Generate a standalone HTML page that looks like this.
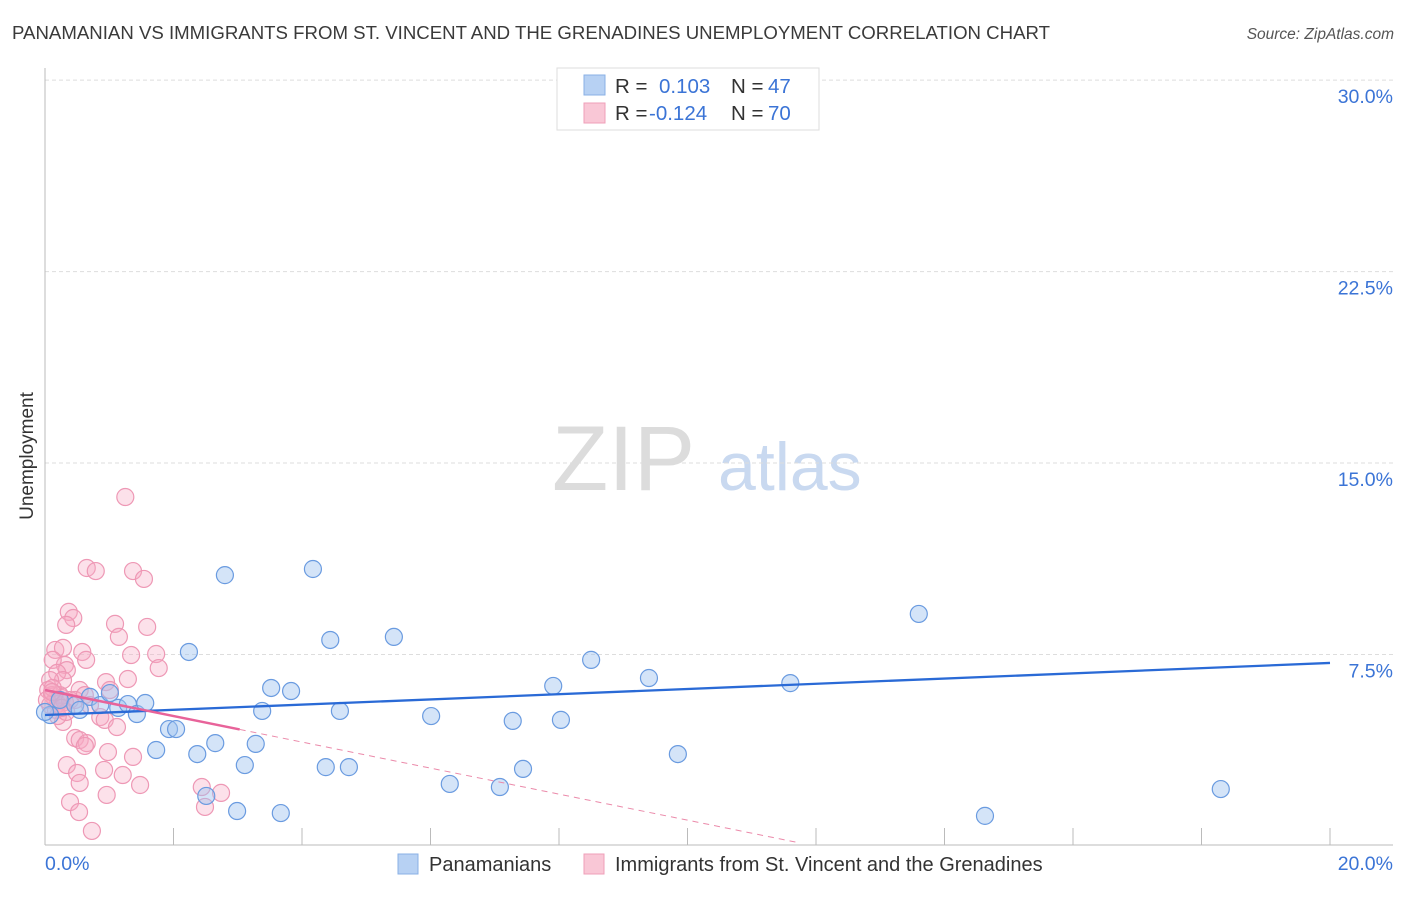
<!DOCTYPE html>
<html><head><meta charset="utf-8"><style>
body{margin:0;background:#fff;font-family:"Liberation Sans",sans-serif;}
svg text{font-family:"Liberation Sans",sans-serif;}
</style></head><body>
<svg id="chart" width="1406" height="892" viewBox="0 0 1406 892">
<text x="12" y="39" font-size="18.6" fill="#3a3a3a" textLength="1038" lengthAdjust="spacingAndGlyphs">PANAMANIAN VS IMMIGRANTS FROM ST. VINCENT AND THE GRENADINES UNEMPLOYMENT CORRELATION CHART</text>
<text x="1394" y="39" font-size="15.5" fill="#555" font-style="italic" text-anchor="end">Source: ZipAtlas.com</text>
<g><text x="552" y="490" font-size="92" font-family="Liberation Serif" fill="#dcdcdc">ZIP</text><text x="718" y="490" font-size="68" fill="#c9d9f0">atlas</text></g>
<g id="grid"></g><g id="axes"></g><g id="pts"></g><g id="trends"></g>
<text transform="translate(33,456) rotate(-90)" font-size="19" fill="#333" text-anchor="middle">Unemployment</text>
<g>
<rect x="557" y="68" width="262" height="62" fill="#fff" stroke="#ddd"/>
<rect x="584" y="75" width="21" height="20" fill="#b7d1f3" stroke="#8ab0e6"/>
<text x="615" y="93" font-size="20.5" fill="#333">R =</text><text x="659" y="93" font-size="20.5" fill="#3b74d6">0.103</text>
<text x="731" y="93" font-size="20.5" fill="#333">N =</text><text x="768" y="93" font-size="20.5" fill="#3b74d6">47</text>
<rect x="584" y="103" width="21" height="20" fill="#f9c7d6" stroke="#ef9fb8"/>
<text x="615" y="120" font-size="20.5" fill="#333">R =</text><text x="649" y="120" font-size="20.5" fill="#3b74d6">-0.124</text>
<text x="731" y="120" font-size="20.5" fill="#333">N =</text><text x="768" y="120" font-size="20.5" fill="#3b74d6">70</text>
</g>
<g>
<rect x="398" y="854" width="20" height="20" fill="#b7d1f3" stroke="#8ab0e6"/>
<text x="429" y="871" font-size="20" fill="#333">Panamanians</text>
<rect x="584" y="854" width="20" height="20" fill="#f9c7d6" stroke="#ef9fb8"/>
<text x="615" y="871" font-size="20" fill="#333">Immigrants from St. Vincent and the Grenadines</text>
</g>
</svg>
<script>
const yTicks=[7.5,15,22.5,30];
const yTickLabels=["7.5%","15.0%","22.5%","30.0%"];
const xTickLabels=["0.0%","20.0%"];
const blueX=[0.08,0.23,0.47,0.70,0.86,1.01,1.14,1.29,1.43,1.56,1.73,1.93,2.04,2.24,2.37,2.51,2.65,2.80,2.99,3.11,3.28,3.38,3.52,3.67,3.83,4.17,4.37,4.44,4.59,4.73,5.43,6.01,6.30,7.08,7.28,7.44,7.91,8.03,8.50,9.40,9.85,11.60,13.60,14.63,18.30,0.0,0.54];
const blueY=[5.13,5.72,5.52,5.84,5.52,5.99,5.41,5.56,5.17,5.60,3.76,4.58,4.58,7.60,3.60,1.96,4.03,10.61,1.37,3.17,4.00,5.29,6.19,1.29,6.07,10.85,3.09,8.07,5.29,3.09,8.19,5.09,2.43,2.31,4.90,3.02,6.27,4.94,7.29,6.58,3.60,6.38,9.09,1.18,2.23,5.25,5.33];
const pinkX=[1.25,0.65,0.79,1.37,1.54,0.37,0.44,0.33,1.09,1.15,1.59,1.34,1.73,1.77,1.29,0.16,0.28,0.58,0.64,0.31,0.34,0.12,0.19,0.28,0.08,0.95,1.01,0.54,0.86,0.93,1.12,0.28,0.47,0.54,0.65,0.62,0.98,1.37,0.34,0.50,0.54,0.92,1.21,1.48,2.44,2.74,2.49,0.39,0.53,0.96,0.73,0.05,0.11,0.16,0.20,0.26,0.08,0.17,0.23,0.31,0.03,0.39,0.12,0.20,0.33,0.47,0.62,0.70,0.11,0.26];
const pinkY=[13.67,10.89,10.77,10.77,10.46,9.17,8.93,8.66,8.70,8.19,8.58,7.48,7.52,6.97,6.54,7.68,7.76,7.60,7.29,7.09,6.89,7.29,6.78,6.50,6.50,6.42,6.11,6.11,5.05,4.94,4.66,4.86,4.23,4.15,4.03,3.92,3.68,3.49,3.17,2.86,2.47,2.98,2.78,2.39,2.31,2.08,1.53,1.72,1.33,2.00,0.59,6.11,5.91,5.72,5.56,5.80,5.52,5.33,5.91,5.64,5.72,5.72,6.19,5.09,5.25,5.72,5.91,5.52,6.03,5.41];
const blueTrend=[5.13,7.17];
const pinkTrend=[6.11,0.12];
const pinkSolidEnd=3.03, pinkDashEnd=11.75;
const NS="http://www.w3.org/2000/svg";
const X0=45,X1=1330,Y0=846,YPER=25.53;
const sx=v=>X0+(X1-X0)*v/20, sy=v=>Y0-v*YPER;
function mk(t,a,p){const e=document.createElementNS(NS,t);for(const k in a)e.setAttribute(k,a[k]);p.appendChild(e);return e;}
const grid=document.getElementById('grid'),axes=document.getElementById('axes'),pts=document.getElementById('pts'),tr=document.getElementById('trends');
yTicks.forEach((v,i)=>{
 const l=mk('line',{x1:X0,x2:1393,y1:sy(v),y2:sy(v),stroke:'#ddd','stroke-dasharray':'4,3'},grid);
 
 
 const t=mk('text',{x:1393,y:sy(v)+23,'font-size':19.5,fill:'#3b74d6','text-anchor':'end'},grid);
 t.textContent=yTickLabels[i];
 
 
});
const ya=mk('line',{x1:X0,x2:X0,y1:68,y2:845,stroke:'#bbb'},axes);


const xa=mk('line',{x1:X0,x2:1393,y1:845,y2:845,stroke:'#bbb'},axes);


for(let i=0;i<=10;i++){const tk=mk('line',{x1:sx(i*2),x2:sx(i*2),y1:828,y2:845,stroke:'#bbb'},axes);
 
 }
const xl0=mk('text',{x:45,y:870,'font-size':19.5,fill:'#3b74d6'},axes);xl0.textContent=xTickLabels[0];


const xl1=mk('text',{x:1393,y:870,'font-size':19.5,fill:'#3b74d6','text-anchor':'end'},axes);xl1.textContent=xTickLabels[1];


pinkX.forEach((v,i)=>{const c=mk('circle',{cx:sx(v),cy:sy(pinkY[i]),r:8.5,fill:'rgba(246,170,196,0.35)',stroke:'#ee98b5','stroke-width':1.2},pts);
 
 });
blueX.forEach((v,i)=>{const c=mk('circle',{cx:sx(v),cy:sy(blueY[i]),r:8.5,fill:'rgba(160,196,240,0.45)',stroke:'#6a9be0','stroke-width':1.2},pts);
 
 });
const pk=x=>pinkTrend[0]+(pinkTrend[1]-pinkTrend[0])*x/pinkDashEnd;
const pd=mk('line',{x1:sx(pinkSolidEnd),y1:sy(pk(pinkSolidEnd)),x2:sx(pinkDashEnd),y2:sy(pk(pinkDashEnd)),stroke:'#eb8aaa','stroke-width':1,'stroke-dasharray':'6,5'},tr);


const bl=mk('line',{x1:sx(0),y1:sy(blueTrend[0]),x2:sx(20),y2:sy(blueTrend[1]),stroke:'#2a6ad6','stroke-width':2.3},tr);


const ps=mk('line',{x1:sx(0),y1:sy(pk(0)),x2:sx(pinkSolidEnd),y2:sy(pk(pinkSolidEnd)),stroke:'#e8639a','stroke-width':2.5},tr);


</script>
</body></html>
